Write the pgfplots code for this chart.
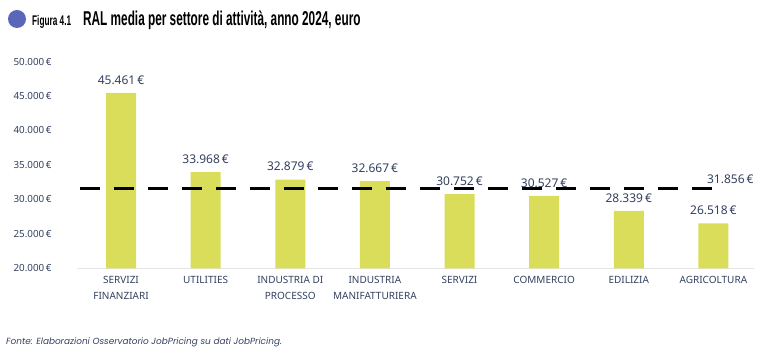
\documentclass[border=0pt]{standalone}
\usepackage{fontspec}
\setmainfont{Noto Sans}
\newfontfamily\titlefont[FakeStretch=0.59]{Liberation Sans}
\newfontfamily\footfont{Poppins}
\usepackage{pgfplots}
\pgfplotsset{compat=1.18}
\definecolor{barc}{HTML}{D9DD5A}
\definecolor{txt}{HTML}{33405E}
\definecolor{dot}{HTML}{5A67B8}
\begin{document}
\begin{tikzpicture}
\begin{axis}[
  at={(0pt,0pt)}, anchor=south west,
  scale only axis, width=677pt, height=206.7pt,
  xmin=-0.52, xmax=7.48, ymin=20000, ymax=50000,
  axis x line*=bottom, axis y line*=left,
  x axis line style={draw=black!10, line width=1.5pt, -},
  y axis line style={draw=none},
  major tick length=0pt,
  scaled y ticks=false,
  xtick={0,...,7},
  xticklabels={{SERVIZI\\FINANZIARI},UTILITIES,{INDUSTRIA DI\\PROCESSO},{INDUSTRIA\\MANIFATTURIERA},SERVIZI,COMMERCIO,EDILIZIA,AGRICOLTURA},
  xticklabel style={align=center, text=txt, font=\fontsize{10}{15.5}\selectfont, yshift=-4.5pt},
  ytick={20000,25000,...,50000},
  yticklabel={\pgfmathprintnumber{\tick}\,€},
  yticklabel style={text=txt, font=\fontsize{9.8}{9.8}\selectfont, xshift=-22pt},
  /pgf/number format/.cd, fixed, precision=0, 1000 sep={.}, assume math mode=true,
  /pgfplots/.cd,
  clip=false,
]
\addplot[ybar, bar width=30pt, fill=barc, draw=none,
  nodes near coords={\pgfmathprintnumber{\pgfplotspointmeta}\,€},
  point meta=y,
  nodes near coords style={anchor=south, text=txt, font=\fontsize{12}{12}\selectfont, yshift=5pt},
] coordinates {(0,45461) (1,33968) (2,32879) (3,32667) (4,30752) (5,30527) (6,28339) (7,26518)};
\addplot[black, line width=3pt, dash pattern=on 20pt off 14pt] coordinates {(-0.485,31550) (7.02,31550)};
\node[anchor=south, text=txt, font=\fontsize{12}{12}\selectfont, inner sep=0pt] at (axis cs:7.2,32200) {31.856\,€};
\end{axis}
\useasboundingbox (-77pt,-94.7pt) rectangle (697pt,268.3pt);
\fill[dot] (-60pt,249.3pt) circle (9pt);
\node[anchor=base west, inner sep=0, text=black] at (-45pt,242.3pt) {\titlefont\bfseries\fontsize{14}{14}\selectfont Figura 4.1};
\node[anchor=base west, inner sep=0, text=black] at (6pt,242.3pt) {\titlefont\bfseries\fontsize{20}{20}\selectfont RAL media per settore di attività, anno 2024, euro};
\node[anchor=base west, inner sep=0, text=txt] at (-71pt,-76pt) {\footfont\itshape\fontsize{8.9}{8.9}\selectfont Fonte: Elaborazioni Osservatorio JobPricing su dati JobPricing.};
\end{tikzpicture}
\end{document}
